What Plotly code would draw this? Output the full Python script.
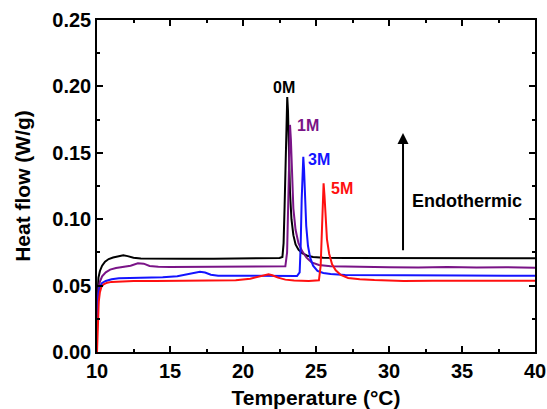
import plotly.graph_objects as go

# ---- data ----
x_0M = [10.0, 10.04, 10.1, 10.2, 10.35, 10.55, 10.8, 11.1, 11.5, 11.8, 12.1, 12.5, 13.0, 14, 16, 18, 20, 21.5, 22.5, 22.7, 22.78, 22.85, 22.92, 22.98, 23.03, 23.08, 23.14, 23.22, 23.32, 23.45, 23.6, 23.8, 24.05, 24.4, 24.8, 25.5, 27, 30, 33, 36, 40]
y_0M = [0.035, 0.048, 0.056, 0.061, 0.065, 0.068, 0.0700, 0.0712, 0.0722, 0.0728, 0.0722, 0.0710, 0.0705, 0.0703, 0.0703, 0.0703, 0.0704, 0.0705, 0.0708, 0.0715, 0.082, 0.110, 0.150, 0.182, 0.192, 0.182, 0.150, 0.120, 0.100, 0.088, 0.081, 0.077, 0.0745, 0.0725, 0.0715, 0.071, 0.0708, 0.0707, 0.0705, 0.0706, 0.0706]

x_1M = [10.0, 10.04, 10.1, 10.2, 10.35, 10.6, 10.9, 11.3, 11.8, 12.3, 12.8, 13.2, 13.6, 14.2, 15, 16, 17, 18, 19, 20, 21, 22, 22.9, 23.02, 23.1, 23.16, 23.22, 23.28, 23.36, 23.45, 23.6, 23.8, 24.05, 24.35, 24.7, 25.2, 26, 28, 30, 32, 34, 36, 38, 40]
y_1M = [0.025, 0.040, 0.048, 0.053, 0.057, 0.060, 0.062, 0.0632, 0.0640, 0.0650, 0.0668, 0.0665, 0.0648, 0.0642, 0.0640, 0.0640, 0.0642, 0.0640, 0.0641, 0.0640, 0.0642, 0.0643, 0.0645, 0.075, 0.120, 0.160, 0.171, 0.160, 0.130, 0.108, 0.092, 0.082, 0.076, 0.071, 0.0675, 0.0655, 0.0645, 0.0640, 0.0638, 0.0636, 0.0640, 0.0636, 0.0638, 0.0634]

x_3M = [10.0, 10.04, 10.1, 10.2, 10.35, 10.6, 11.0, 11.5, 12.5, 13.5, 14.5, 15.5, 16.2, 16.7, 17.05, 17.4, 17.8, 18.3, 19, 20, 21, 22, 23, 23.7, 23.88, 23.95, 24.02, 24.08, 24.13, 24.18, 24.25, 24.33, 24.45, 24.6, 24.8, 25.1, 25.5, 26, 27, 29, 32, 35, 38, 40]
y_3M = [0.015, 0.035, 0.044, 0.049, 0.052, 0.0535, 0.0548, 0.0555, 0.0557, 0.0558, 0.0562, 0.0570, 0.0585, 0.0600, 0.0605, 0.0598, 0.0582, 0.0575, 0.0575, 0.0574, 0.0573, 0.0572, 0.0570, 0.0572, 0.0600, 0.080, 0.115, 0.140, 0.147, 0.138, 0.115, 0.095, 0.080, 0.071, 0.065, 0.061, 0.0595, 0.0588, 0.058, 0.0578, 0.0575, 0.0576, 0.0575, 0.0575]

x_5M = [10.0, 10.03, 10.07, 10.12, 10.2, 10.3, 10.45, 10.7, 11.0, 11.5, 12.5, 14, 16, 18, 19.5, 20.5, 21.1, 21.5, 21.75, 22.0, 22.4, 22.9, 23.5, 24.5, 25.2, 25.32, 25.4, 25.46, 25.52, 25.58, 25.65, 25.75, 25.9, 26.1, 26.35, 26.7, 27.2, 28, 29, 30, 31, 33, 36, 40]
y_5M = [0.0, 0.012, 0.028, 0.038, 0.045, 0.049, 0.051, 0.0522, 0.0528, 0.0532, 0.0535, 0.0535, 0.0535, 0.0536, 0.0540, 0.0552, 0.0570, 0.0583, 0.0585, 0.0578, 0.0560, 0.0545, 0.0538, 0.0535, 0.0540, 0.065, 0.095, 0.118, 0.127, 0.118, 0.100, 0.085, 0.074, 0.066, 0.0615, 0.058, 0.0558, 0.0548, 0.0542, 0.0538, 0.0535, 0.0536, 0.0537, 0.0537]

series_names = ["0M", "1M", "3M", "5M"]
series_colors = ["#000000", "#7a1487", "#1414ff", "#ff1010"]
label_x = [22.82, 24.45, 25.21, 26.75]
label_y = [0.1992, 0.1702, 0.1446, 0.1232]

x_ticks = [10, 15, 20, 25, 30, 35, 40]
y_ticks = [0.00, 0.05, 0.10, 0.15, 0.20, 0.25]

FONT = "Liberation Sans"

fig = go.Figure()
for name, col, xs, ys in zip(series_names, series_colors,
                             [x_0M, x_1M, x_3M, x_5M], [y_0M, y_1M, y_3M, y_5M]):
    fig.add_trace(go.Scatter(x=xs, y=ys, mode="lines", name=name,
                             line=dict(color=col, width=2), showlegend=False))

for name, col, lx, ly in zip(series_names, series_colors, label_x, label_y):
    fig.add_annotation(x=lx, y=ly, text=name, showarrow=False,
                       font=dict(family=FONT, size=16, color=col, weight="bold"))

# Endothermic arrow and label
fig.add_annotation(x=30.96, y=0.165, ax=30.96, ay=0.0755, axref="x", ayref="y",
                   xref="x", yref="y", text="", showarrow=True,
                   arrowhead=2, arrowsize=1.1, arrowwidth=2, arrowcolor="black")
fig.add_annotation(x=35.36, y=0.1137, text="Endothermic", showarrow=False,
                   font=dict(family=FONT, size=18, color="black", weight="bold"))

axis_common = dict(showline=True, linecolor="black", linewidth=1.5, mirror="ticks",
                   ticks="inside", ticklen=6, tickwidth=1.5, tickcolor="black",
                   showgrid=False, zeroline=False, automargin=False,
                   tickfont=dict(family=FONT, size=20, color="black", weight="bold"))

fig.update_xaxes(range=[10, 40], tickvals=x_ticks, ticktext=[str(v) for v in x_ticks],
                 minor=dict(ticks="inside", ticklen=3, tickwidth=1.5, tickcolor="black", dtick=2.5, tick0=10, showgrid=False),
                 title=dict(text="Temperature (°C)", standoff=10,
                            font=dict(family=FONT, size=21, color="black", weight="bold")),
                 **axis_common)
fig.update_yaxes(range=[0, 0.25], tickvals=y_ticks, ticktext=[f"{v:.2f}" for v in y_ticks],
                 minor=dict(ticks="inside", ticklen=3, tickwidth=1.5, tickcolor="black", dtick=0.025, tick0=0, showgrid=False),
                 title=dict(text="Heat flow (W/g)", standoff=16,
                            font=dict(family=FONT, size=21, color="black", weight="bold")),
                 **axis_common)

fig.update_layout(width=547, height=409, margin=dict(l=97, r=12, t=20, b=57),
                  plot_bgcolor="white", paper_bgcolor="white")

fig.write_html("out.html", config={"displayModeBar": False},
               post_script="document.body.style.margin='0';")
